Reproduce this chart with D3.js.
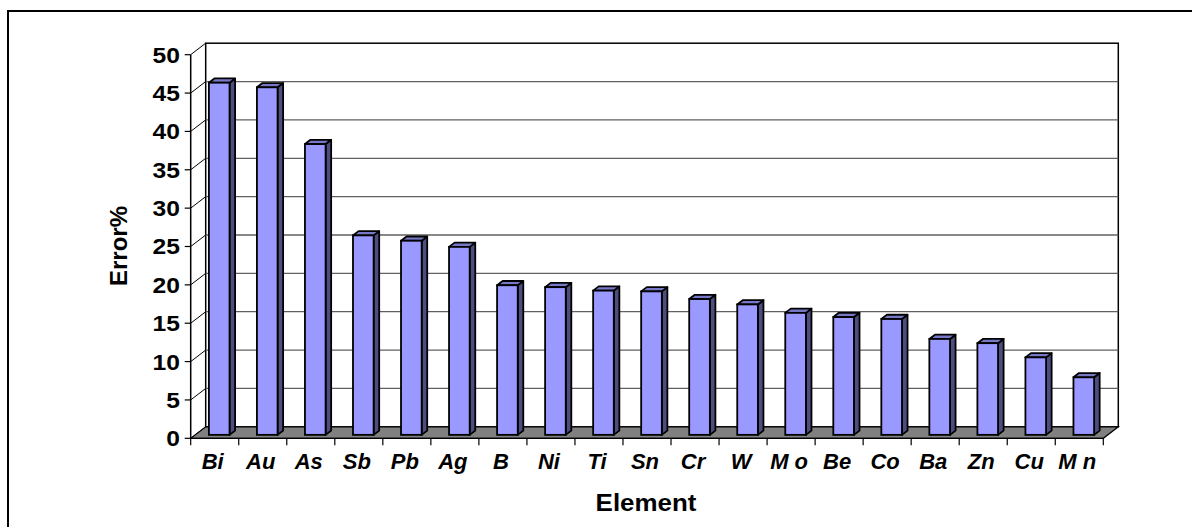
<!DOCTYPE html>
<html><head><meta charset="utf-8">
<script src="https://cdn.jsdelivr.net/npm/d3@7"></script>
<style>body{margin:0;background:#fff}svg{display:block}text{font-family:"Liberation Sans",Arial,sans-serif;font-weight:bold;fill:#000}</style>
</head><body><svg id="c" width="1192" height="527"></svg>
<script>
const categories = ["Bi","Au","As","Sb","Pb","Ag","B","Ni","Ti","Sn","Cr","W","M o","Be","Co","Ba","Zn","Cu","M n"];
const errorValues = [45.9,45.3,37.9,26.0,25.3,24.5,19.5,19.25,18.8,18.7,17.7,17.0,15.9,15.35,15.1,12.5,11.95,10.1,7.5];
const yTicks = [0,5,10,15,20,25,30,35,40,45,50];
const xTitle = "Element";
const yTitle = "Error%";

const svg = d3.select("#c");
const X0 = 190.7, X1 = 1103.3, YZ = 438.3, YT = 54.7;
const DX = 15, DY = -11.5;           // chart depth vector
const fF = 0.3, fB = 0.37;           // bar front offset / bar depth fractions

const x = d3.scaleBand().domain(categories).range([X0, X1]).padding(0);
const y = d3.scaleLinear().domain([0, 50]).range([YZ, YT]);
const bw = x.bandwidth();
const barW = bw * 0.43;

// outer frame
svg.append("rect").attr("x", 8).attr("y", 11).attr("width", 1300).attr("height", 700)
  .attr("fill", "none").attr("stroke", "#000").attr("stroke-width", 2);

// back wall
svg.append("rect").attr("x", X0 + DX).attr("y", YT + DY)
  .attr("width", X1 - X0).attr("height", YZ - YT)
  .attr("fill", "#fff").attr("stroke", "#000").attr("stroke-width", 1.5);

// gridlines on back wall
svg.selectAll(".grid").data(yTicks.filter(t => t > 0 && t < 50)).join("line")
  .attr("x1", X0 + DX).attr("x2", X1 + DX)
  .attr("y1", d => y(d) + DY).attr("y2", d => y(d) + DY)
  .attr("stroke", "#606060").attr("stroke-width", 1.3);

// side wall diagonals
svg.selectAll(".diag").data(yTicks).join("line")
  .attr("x1", X0).attr("x2", X0 + DX)
  .attr("y1", d => y(d)).attr("y2", d => y(d) + DY)
  .attr("stroke", "#000").attr("stroke-width", 1);

// floor
svg.append("polygon")
  .attr("points", [[X0, YZ], [X1, YZ], [X1 + DX, YZ + DY], [X0 + DX, YZ + DY]].map(p => p.join(",")).join(" "))
  .attr("fill", "#808080").attr("stroke", "#000").attr("stroke-width", 1.2);

// y axis
svg.append("line").attr("x1", X0).attr("x2", X0).attr("y1", YT).attr("y2", YZ)
  .attr("stroke", "#000").attr("stroke-width", 1.5);
svg.selectAll(".ytick").data(yTicks).join("line")
  .attr("x1", X0 - 6).attr("x2", X0).attr("y1", d => y(d)).attr("y2", d => y(d))
  .attr("stroke", "#000").attr("stroke-width", 1.2);
svg.selectAll(".ylab").data(yTicks).join("text")
  .attr("transform", d => `translate(180,${y(d)}) scale(1.12,1)`)
  .attr("dy", "0.36em")
  .attr("text-anchor", "end").attr("font-size", 22)
  .text(d => d);

// x axis ticks
const bounds = categories.map(c => x(c)).concat([X1]);
svg.selectAll(".xtick").data(bounds).join("line")
  .attr("x1", d => d).attr("x2", d => d).attr("y1", YZ).attr("y2", YZ + 7)
  .attr("stroke", "#000").attr("stroke-width", 1.2);
svg.append("line").attr("x1", X0).attr("x2", X1).attr("y1", YZ).attr("y2", YZ)
  .attr("stroke", "#000").attr("stroke-width", 1.2);

// bars
const bars = svg.selectAll(".bar").data(categories.map((c, i) => ({c, v: errorValues[i]}))).join("g");
const fx = DX * fF, fy = DY * fF, bx = DX * fB, by = DY * fB;
bars.each(function(d) {
  const g = d3.select(this);
  const xl = x(d.c) + (bw - barW) / 2 + fx;
  const xr = xl + barW;
  const top = y(d.v) + fy;
  const bot = YZ + fy;
  const pts = a => a.map(p => p.join(",")).join(" ");
  g.append("polygon").attr("points", pts([[xr, top], [xr + bx, top + by], [xr + bx, bot + by], [xr, bot]]))
    .attr("fill", "#4d4d80").attr("stroke", "#000").attr("stroke-width", 1.8).attr("stroke-linejoin", "round");
  g.append("polygon").attr("points", pts([[xl, top], [xr, top], [xr + bx, top + by], [xl + bx, top + by]]))
    .attr("fill", "#7878c8").attr("stroke", "#000").attr("stroke-width", 1.8).attr("stroke-linejoin", "round");
  g.append("rect").attr("x", xl).attr("y", top).attr("width", barW).attr("height", bot - top)
    .attr("fill", "#9999ff").attr("stroke", "#000").attr("stroke-width", 1.8);
});

// x labels
svg.selectAll(".xlab").data(categories).join("text")
  .attr("x", d => x(d) + bw / 2 - 2).attr("y", 469)
  .attr("text-anchor", "middle").attr("font-size", 22).attr("font-style", "italic")
  .text(d => d);

// titles
svg.append("text").attr("transform", "translate(646,511) scale(1.08,1)").attr("text-anchor", "middle")
  .attr("font-size", 24).text(xTitle);
svg.append("text").attr("transform", "translate(127,246) rotate(-90)")
  .attr("text-anchor", "middle").attr("font-size", 24).text(yTitle);
</script></body></html>
